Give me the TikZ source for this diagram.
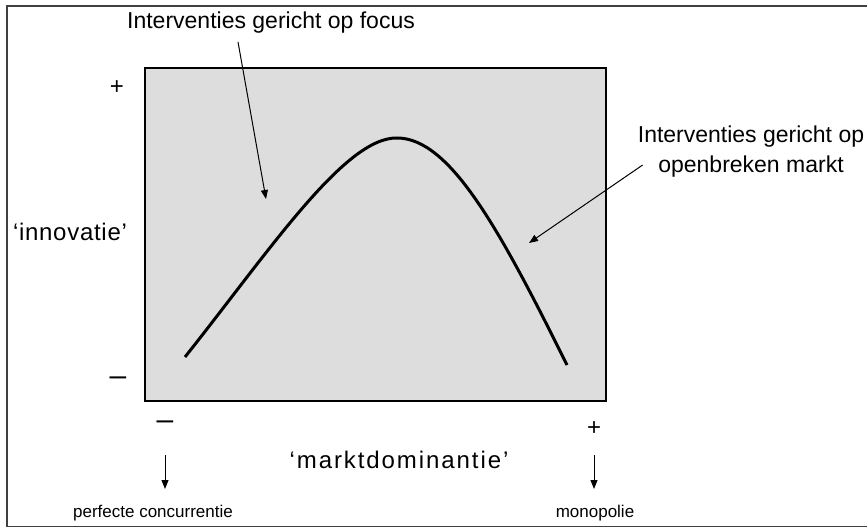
\documentclass[tikz,border=0pt]{standalone}
\usepackage{fontspec}
\setmainfont{Liberation Sans}
\usepackage{tikz}
\usetikzlibrary{arrows.meta, positioning}
\definecolor{boxgrey}{RGB}{221,221,221}

\begin{document}
\begin{tikzpicture}[
    x=1pt, y=-1pt,
    note/.style={font=\fontsize{23}{30}\selectfont, inner sep=0pt, align=center},
    axisname/.style={font=\fontsize{24}{28}\selectfont, inner sep=0pt},
    sign/.style={font=\fontsize{24}{28}\selectfont, inner sep=0pt},
    minussign/.style={font=\fontsize{30}{34}\selectfont, inner sep=0pt},
    small/.style={font=\fontsize{17}{20}\selectfont, inner sep=0pt},
    arrow/.style={-{Triangle[length=9pt, width=7pt]}, line width=1pt},
    curve/.style={line width=3pt}
]
\useasboundingbox (0,0) rectangle (867,527);
\draw[line width=1.5pt, black!75] (7,6) rectangle (875,527);

% plot area
\node[draw, line width=1.3pt, fill=boxgrey, minimum width=461pt, minimum height=333pt, inner sep=0pt] (field) at (375.5,234.5) {};
\draw[curve] (185,357) .. controls (270,250) and (345,137) .. (397,138)
    .. controls (450,138) and (500,230) .. (567,365);

% labels
\node[note] (focus) at (271,23) {Interventies gericht op focus};
\node[note] (open) at (751,152) {Interventies gericht op\\openbreken markt};
\node[axisname] (innov) at (70,232) {\addfontfeatures{LetterSpace=3}‘innovatie’};
\node[axisname] (dom) at (399,460) {\addfontfeatures{LetterSpace=8}‘marktdominantie’};

\node[sign] (yplus) at (117,88) {+};
\node[minussign] (yminus) at (118,381) {–};
\node[minussign] (xminus) at (165,425) {–};
\node[sign] (xplus) at (594,429) {+};

\node[small] (perfect) at (153,513) {perfecte concurrentie};
\node[small] (mono) at (595,513) {monopolie};

% arrows
\coordinate (focustip) at (266,199);
\coordinate (opentip) at (529,243);
\coordinate (perfecttip) at (165,489);
\coordinate (monotip) at (594,489);

\draw[arrow] ([xshift=-33pt, yshift=-8pt]focus.south) -- (focustip);
\draw[arrow] ([xshift=5pt, yshift=-13pt]open.west) -- (opentip);
\draw[arrow] ([yshift=-30pt]xminus.center) -- (perfecttip);
\draw[arrow] ([yshift=-26pt]xplus.center) -- (monotip);

\end{tikzpicture}
\end{document}
